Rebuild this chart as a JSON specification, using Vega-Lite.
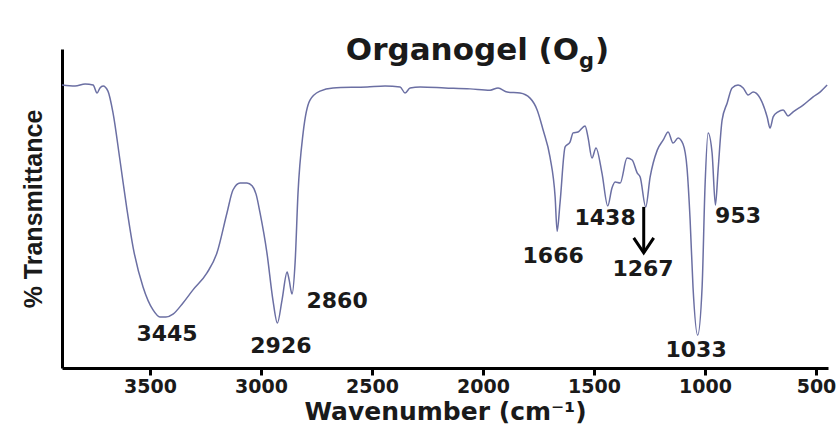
{
  "$schema": "https://vega.github.io/schema/vega-lite/v6.json",
  "width": 766,
  "height": 319,
  "autosize": {"type": "none"},
  "padding": {"left": 62, "top": 49, "right": 12, "bottom": 58},
  "background": "white",
  "config": {
    "view": {"stroke": null},
    "axis": {"grid": false}
  },
  "datasets": {
    "spectrum": [
      {"wn": 3896, "t": 88.7}, {"wn": 3837, "t": 88.4}, {"wn": 3792, "t": 89.0}, {"wn": 3756, "t": 88.7},
      {"wn": 3738, "t": 86.2}, {"wn": 3725, "t": 87.8}, {"wn": 3711, "t": 88.4}, {"wn": 3689, "t": 86.8},
      {"wn": 3666, "t": 79.9}, {"wn": 3635, "t": 65.2}, {"wn": 3603, "t": 49.5}, {"wn": 3576, "t": 37.9},
      {"wn": 3531, "t": 25.4}, {"wn": 3486, "t": 18.2}, {"wn": 3455, "t": 16.0}, {"wn": 3428, "t": 16.0},
      {"wn": 3396, "t": 16.9}, {"wn": 3351, "t": 20.4}, {"wn": 3306, "t": 24.5}, {"wn": 3243, "t": 29.8},
      {"wn": 3198, "t": 36.1}, {"wn": 3153, "t": 48.6}, {"wn": 3126, "t": 55.8}, {"wn": 3094, "t": 58.0},
      {"wn": 3063, "t": 58.0}, {"wn": 3040, "t": 57.1}, {"wn": 3022, "t": 54.5}, {"wn": 3004, "t": 48.6},
      {"wn": 2973, "t": 36.1}, {"wn": 2946, "t": 21.3}, {"wn": 2926, "t": 14.1}, {"wn": 2905, "t": 21.3},
      {"wn": 2882, "t": 30.1}, {"wn": 2873, "t": 27.6}, {"wn": 2860, "t": 23.2}, {"wn": 2846, "t": 33.2},
      {"wn": 2833, "t": 54.9}, {"wn": 2810, "t": 73.7}, {"wn": 2779, "t": 84.0}, {"wn": 2734, "t": 86.8},
      {"wn": 2675, "t": 87.8}, {"wn": 2522, "t": 88.1}, {"wn": 2441, "t": 88.4}, {"wn": 2373, "t": 88.1},
      {"wn": 2351, "t": 86.2}, {"wn": 2328, "t": 87.8}, {"wn": 2283, "t": 88.1}, {"wn": 2171, "t": 87.8},
      {"wn": 2058, "t": 87.5}, {"wn": 1968, "t": 87.1}, {"wn": 1932, "t": 87.8}, {"wn": 1891, "t": 86.5},
      {"wn": 1833, "t": 86.2}, {"wn": 1788, "t": 84.6}, {"wn": 1756, "t": 80.9}, {"wn": 1729, "t": 74.6},
      {"wn": 1698, "t": 66.1}, {"wn": 1675, "t": 53.6}, {"wn": 1666, "t": 42.9}, {"wn": 1653, "t": 51.7},
      {"wn": 1630, "t": 69.3}, {"wn": 1608, "t": 70.8}, {"wn": 1594, "t": 73.7}, {"wn": 1572, "t": 74.0},
      {"wn": 1540, "t": 75.9}, {"wn": 1527, "t": 72.4}, {"wn": 1509, "t": 65.8}, {"wn": 1491, "t": 69.0},
      {"wn": 1464, "t": 61.1}, {"wn": 1438, "t": 50.8}, {"wn": 1419, "t": 56.4}, {"wn": 1405, "t": 58.3},
      {"wn": 1382, "t": 58.0}, {"wn": 1351, "t": 65.8}, {"wn": 1328, "t": 65.2}, {"wn": 1305, "t": 61.1},
      {"wn": 1292, "t": 59.9}, {"wn": 1267, "t": 50.5}, {"wn": 1247, "t": 59.9}, {"wn": 1215, "t": 68.3},
      {"wn": 1188, "t": 71.5}, {"wn": 1166, "t": 74.0}, {"wn": 1144, "t": 70.5}, {"wn": 1121, "t": 72.1},
      {"wn": 1099, "t": 70.2}, {"wn": 1081, "t": 62.7}, {"wn": 1067, "t": 46.4}, {"wn": 1054, "t": 25.4},
      {"wn": 1033, "t": 10.3}, {"wn": 1013, "t": 25.4}, {"wn": 1000, "t": 56.7}, {"wn": 986, "t": 73.7},
      {"wn": 968, "t": 67.4}, {"wn": 953, "t": 51.1}, {"wn": 941, "t": 62.1}, {"wn": 923, "t": 77.7},
      {"wn": 900, "t": 83.1}, {"wn": 878, "t": 87.8}, {"wn": 851, "t": 88.7}, {"wn": 828, "t": 87.8},
      {"wn": 806, "t": 85.6}, {"wn": 783, "t": 86.5}, {"wn": 752, "t": 84.6}, {"wn": 720, "t": 78.7},
      {"wn": 707, "t": 75.2}, {"wn": 693, "t": 78.7}, {"wn": 671, "t": 80.3}, {"wn": 648, "t": 80.9},
      {"wn": 626, "t": 79.0}, {"wn": 603, "t": 80.3}, {"wn": 558, "t": 82.4}, {"wn": 513, "t": 85.0},
      {"wn": 482, "t": 86.5}, {"wn": 450, "t": 88.7}
    ],
    "peaks": [
      {"label": "3445", "lx": 3423, "ly": 8.5},
      {"label": "2926", "lx": 2910, "ly": 4.7},
      {"label": "2860", "lx": 2657, "ly": 18.8},
      {"label": "1666", "lx": 1684, "ly": 32.9},
      {"label": "1438", "lx": 1450, "ly": 44.8},
      {"label": "1267", "lx": 1279, "ly": 28.8},
      {"label": "953", "lx": 851, "ly": 45.5},
      {"label": "1033", "lx": 1040, "ly": 3.4}
    ],
    "arrow": [
      {"wn": 1276, "top": 50.5, "tip": 36.1}
    ]
  },
  "layer": [
    {
      "data": {"name": "spectrum"},
      "mark": {"type": "line", "color": "#6b6fa3", "strokeWidth": 1.5, "interpolate": "monotone"},
      "encoding": {
        "x": {
          "field": "wn", "type": "quantitative",
          "scale": {"domain": [446, 3896], "reverse": true, "nice": false, "zero": false},
          "axis": {
            "title": "Wavenumber (cm⁻¹)",
            "values": [3500, 3000, 2500, 2000, 1500, 1000, 500],
            "format": "d",
            "domainColor": "black", "domainWidth": 3,
            "tickColor": "black", "tickWidth": 3, "tickSize": 7,
            "labelFont": "DejaVu Sans", "labelFontWeight": "bold", "labelFontSize": 19, "labelColor": "#1a1a1a",
            "labelPadding": 2, "labelFlush": false,
            "titleFont": "DejaVu Sans", "titleFontWeight": "bold", "titleFontSize": 25, "titleColor": "#1a1a1a",
            "titlePadding": 3
          }
        },
        "y": {
          "field": "t", "type": "quantitative",
          "scale": {"domain": [0, 100], "nice": false},
          "axis": {
            "title": "% Transmittance",
            "ticks": false, "labels": false,
            "domainColor": "black", "domainWidth": 3,
            "titleFont": "Liberation Sans", "titleFontWeight": "bold", "titleFontSize": 25, "titleColor": "#1a1a1a",
            "titlePadding": 16
          }
        }
      }
    },
    {
      "data": {"name": "peaks"},
      "mark": {"type": "text", "font": "DejaVu Sans", "fontWeight": "bold", "fontSize": 22, "color": "#1a1a1a", "align": "center", "baseline": "alphabetic"},
      "encoding": {
        "x": {"field": "lx", "type": "quantitative"},
        "y": {"field": "ly", "type": "quantitative"},
        "text": {"field": "label"}
      }
    },
    {
      "data": {"name": "arrow"},
      "mark": {"type": "rule", "color": "black", "strokeWidth": 3},
      "encoding": {
        "x": {"field": "wn", "type": "quantitative"},
        "y": {"field": "top", "type": "quantitative"},
        "y2": {"field": "tip"}
      }
    },
    {
      "data": {"name": "arrow"},
      "mark": {"type": "point", "shape": "M-1,-1.5L0,0L1,-1.5", "filled": false, "stroke": "black", "strokeWidth": 3, "size": 400, "opacity": 1, "strokeJoin": "miter"},
      "encoding": {
        "x": {"field": "wn", "type": "quantitative"},
        "y": {"field": "tip", "type": "quantitative"}
      }
    },
    {
      "data": {"values": [{}]},
      "mark": {"type": "text", "text": "Organogel (O", "font": "DejaVu Sans", "fontWeight": "bold", "fontSize": 31, "color": "#1a1a1a", "align": "right", "baseline": "alphabetic"},
      "encoding": {
        "x": {"datum": 1567, "type": "quantitative"},
        "y": {"datum": 96.6, "type": "quantitative"}
      }
    },
    {
      "data": {"values": [{}]},
      "mark": {"type": "text", "text": "g", "font": "DejaVu Sans", "fontWeight": "bold", "fontSize": 21, "color": "#1a1a1a", "align": "left", "baseline": "alphabetic", "dx": 0, "dy": 8},
      "encoding": {
        "x": {"datum": 1567, "type": "quantitative"},
        "y": {"datum": 96.6, "type": "quantitative"}
      }
    },
    {
      "data": {"values": [{}]},
      "mark": {"type": "text", "text": ")", "font": "DejaVu Sans", "fontWeight": "bold", "fontSize": 31, "color": "#1a1a1a", "align": "left", "baseline": "alphabetic", "dx": 16},
      "encoding": {
        "x": {"datum": 1567, "type": "quantitative"},
        "y": {"datum": 96.6, "type": "quantitative"}
      }
    }
  ]
}
